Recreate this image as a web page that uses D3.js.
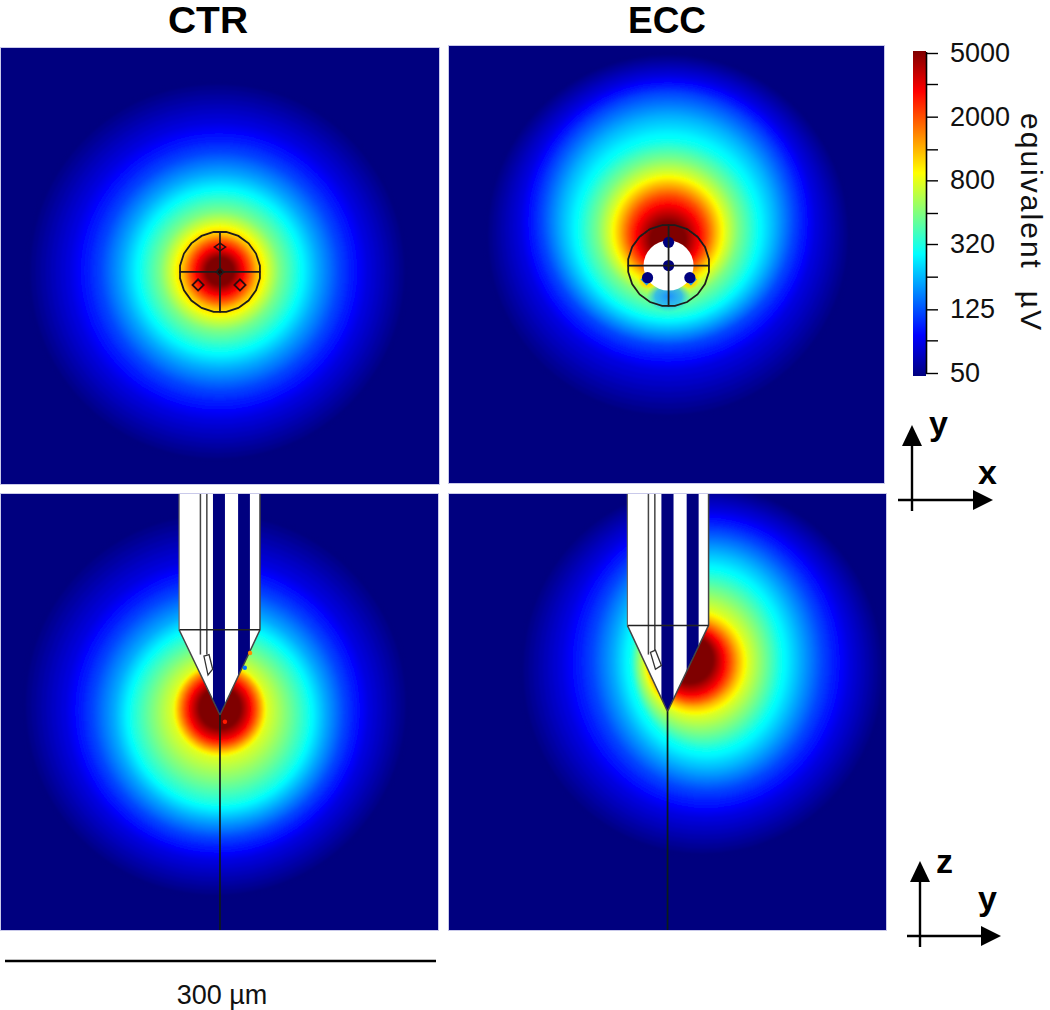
<!DOCTYPE html>
<html><head><meta charset="utf-8">
<script src="https://cdn.jsdelivr.net/npm/d3@7/dist/d3.min.js"></script>
<style>html,body{margin:0;padding:0;background:#fff}svg{display:block;font-family:"Liberation Sans",Arial,sans-serif}</style>
</head><body><svg id="c" width="1050" height="1010"></svg>
<script>
// colour bar
const tickValues = [50, 80, 125, 200, 320, 500, 800, 1250, 2000, 3200, 5000];
const tickLabels = ["50", "125", "320", "800", "2000", "5000"];
const jetValues = [50, 89, 282, 889, 2812, 5000];
const jetColors = ["#00007f", "#0000ff", "#00ffff", "#ffff00", "#ff0000", "#7f0000"];
// iso-contours of each panel, micrometres from the panel's top-left corner
const levels = [50, 80, 125, 200, 320, 500, 800, 1250, 2000, 3200, 5000];
const ctrTopR  = [131, 101.5, 81.5, 66.4, 53.4, 41, 32.2, 25.3, 20.5, 15, 9.6];
const ctrTopCx = [148, 149, 150, 150, 150, 150, 150, 150, 150, 150, 150];
const ctrTopCy = [153, 153, 153, 153, 153, 153, 153, 153, 153, 153, 153];
const eccTopR  = [125.6, 100.7, 86.3, 73.8, 60, 48.3, 39.3, 33, 27, 20, 12.4];
const eccTopCx = [150, 150, 150, 150, 150, 150, 150, 150, 150, 150, 150];
const eccTopCy = [130.4, 121.4, 118.7, 121.4, 125.6, 125.6, 127, 127.6, 129, 131, 132.5];
const ctrSideR  = [133, 103.5, 86, 72, 60.3, 46.6, 32.2, 28.8, 24.7, 20, 14.4];
const ctrSideCx = [147, 148, 149, 150, 150, 150, 150, 150, 150, 150, 150];
const ctrSideCy = [144, 147.5, 149.5, 151.4, 152, 150.7, 148, 147.3, 147.3, 147.3, 146.6];
const eccSideRx = [125.6, 98.2, 78.8, 63.9, 50.7, 43.4, 35.4, 30.8, 26.3, 21.7, 16.4];
const eccSideRy = [127.8, 105, 89, 75.3, 60.5, 49, 36.5, 30.8, 26.3, 21.7, 16.4];
const eccSideCx = [173.5, 175.8, 176.9, 176.9, 175.8, 172.4, 169.2, 167.8, 166.7, 165.5, 164.8];
const eccSideCy = [121, 116.4, 114.2, 114.2, 114.2, 114.8, 115.3, 115.3, 115.3, 114.8, 113.5];
// probe geometry (µm)
const ctrProbe = [[122,0],[177.4,0],[177.4,93],[150,151.4],[122,93]];
const eccProbe = [[122.2,0],[177.8,0],[177.8,90],[149.7,149],[122.2,90]];
const ctrBands = [[145.2,153.4],[162.4,170.5]];
const eccBands = [[145.5,153.8],[162.8,171]];
const wireX = [136.6, 141];
const ctrPad = [[139,111],[142.5,110],[145,120],[141.8,124]];
const eccPad = [[138,108.5],[141.4,107],[145.5,117.4],[141.4,120]];
const ctrSpecks = [[170.6,108.9,1500],[167,119,150],[153.4,156,2500]];
const ctrDiamonds = [[150,136.3],[135,162.3],[163.7,162.3]];
const eccDots = [[150.4,150.4],[150.4,134.5],[136,158.7],[165,158.7]];
const eccGlow = [[136,160],[165,160]];
const panels = [
  {x0:1,  y0:48, w:438, h:436, rx:ctrTopR,  ry:ctrTopR,  cx:ctrTopCx,  cy:ctrTopCy},
  {x0:449,y0:46, w:435, h:437, rx:eccTopR,  ry:eccTopR,  cx:eccTopCx,  cy:eccTopCy},
  {x0:1,  y0:494,w:437, h:436, rx:ctrSideR, ry:ctrSideR, cx:ctrSideCx, cy:ctrSideCy},
  {x0:449,y0:494,w:437, h:436, rx:eccSideRx,ry:eccSideRy,cx:eccSideCx, cy:eccSideCy}
];
const svg = d3.select("#c");
const defs = svg.append("defs");
defs.append("filter").attr("id","soft").attr("x","-5%").attr("y","-5%").attr("width","110%").attr("height","110%")
  .append("feGaussianBlur").attr("stdDeviation",1.1);
defs.append("filter").attr("id","fine").attr("x","-5%").attr("y","-5%").attr("width","110%").attr("height","110%")
  .append("feGaussianBlur").attr("stdDeviation",0.45);
const color = d3.scaleLog().domain(jetValues).range(jetColors).interpolate(d3.interpolateRgb);
panels.forEach((p,i)=>{
  p.x = d3.scaleLinear().domain([0,p.w*0.685]).range([p.x0,p.x0+p.w]);
  p.y = d3.scaleLinear().domain([0,p.h*0.685]).range([p.y0,p.y0+p.h]);
  defs.append("clipPath").attr("id","pc"+i).append("rect")
    .attr("x",p.x0).attr("y",p.y0).attr("width",p.w).attr("height",p.h);
  const g = svg.append("g").attr("clip-path",`url(#pc${i})`);
  g.append("rect").attr("x",p.x0).attr("y",p.y0).attr("width",p.w).attr("height",p.h).attr("fill",jetColors[0]);
  const rings = [];
  levels.slice(0,-1).forEach((lv,j)=>{
    const n = 9;
    d3.range(n).forEach(k=>{
      const t = k/n;
      rings.push({
        v: Math.exp(d3.interpolate(Math.log(lv),Math.log(levels[j+1]))(t)),
        rx: d3.interpolate(p.rx[j],p.rx[j+1])(t),
        ry: d3.interpolate(p.ry[j],p.ry[j+1])(t),
        cx: d3.interpolate(p.cx[j],p.cx[j+1])(t),
        cy: d3.interpolate(p.cy[j],p.cy[j+1])(t)
      });
    });
  });
  const L = levels.length-1;
  rings.push({v:levels[L],rx:p.rx[L],ry:p.ry[L],cx:p.cx[L],cy:p.cy[L]});
  g.append("g").attr("filter","url(#soft)").selectAll("ellipse").data(rings).join("ellipse")
    .attr("cx",d=>p.x(d.cx)).attr("cy",d=>p.y(d.cy))
    .attr("rx",d=>p.x(d.rx)-p.x(0)).attr("ry",d=>p.y(d.ry)-p.y(0)).attr("fill",d=>color(d.v));
  p.g = g;
  svg.append("rect").attr("x",p.x0-0.5).attr("y",p.y0-0.5).attr("width",p.w+1).attr("height",p.h+1)
    .attr("fill","none").attr("stroke","#c9c9ea").attr("stroke-width",1);
});
// top views
function topProbe(p, cx, cy, rad){
  const g = svg.append("g").attr("fill","none").attr("stroke","#1c1c1c").attr("stroke-width",1.8).attr("filter","url(#fine)");
  const pts = d3.range(20).map(k=>{const a=k/20*2*Math.PI+0.157;return [p.x(cx+rad*Math.cos(a)),p.y(cy+rad*Math.sin(a))];});
  g.append("path").attr("d",d3.line().curve(d3.curveLinearClosed)(pts));
  g.append("line").attr("x1",p.x(cx-rad)).attr("x2",p.x(cx+rad)).attr("y1",p.y(cy)).attr("y2",p.y(cy));
  g.append("line").attr("x1",p.x(cx)).attr("x2",p.x(cx)).attr("y1",p.y(cy-rad)).attr("y2",p.y(cy+rad));
  return g;
}
const pa = panels[0], pb = panels[1], pc = panels[2], pd = panels[3];
const ga = topProbe(pa,150,153.4,27.7);
ga.selectAll("path.d").data(ctrDiamonds).join("path").attr("class","d")
  .attr("transform",(d,i)=>`translate(${pa.x(d[0])},${pa.y(d[1])}) scale(1,${i?1:0.7}) rotate(45)`)
  .attr("d",d3.symbol(d3.symbolSquare,62)).attr("stroke","#2a1010");
ga.append("path").attr("transform",`translate(${pa.x(150)},${pa.y(153.4)}) rotate(45)`).attr("d",d3.symbol(d3.symbolSquare,26)).attr("fill","#300");

// ECC top: shadow under the probe, hollow, electrode sites
const shadow = defs.append("radialGradient").attr("id","shadow");
shadow.append("stop").attr("offset","0%").attr("stop-color","#1c90ff").attr("stop-opacity",1);
shadow.append("stop").attr("offset","60%").attr("stop-color","#20b0ff").attr("stop-opacity",.8);
shadow.append("stop").attr("offset","100%").attr("stop-color","#20d0ff").attr("stop-opacity",0);
pb.g.append("ellipse").attr("cx",pb.x(150.4)).attr("cy",pb.y(171.5)).attr("rx",22).attr("ry",16).attr("fill","url(#shadow)");
pb.g.append("g").attr("filter","url(#soft)").selectAll("circle").data(eccGlow).join("circle")
  .attr("cx",d=>pb.x(d[0])).attr("cy",d=>pb.y(d[1])).attr("r",8).attr("fill","#ffd800");
pb.g.append("circle").attr("cx",pb.x(150.4)).attr("cy",pb.y(150.4)).attr("r",25).attr("fill","#fff");
pb.g.selectAll("path.site").data(eccGlow).join("path").attr("class","site")
  .attr("transform",d=>`translate(${pb.x(d[0])+(d[0]<150?-1:1)},${pb.y(d[1])}) rotate(45)`)
  .attr("d",d3.symbol(d3.symbolSquare,70)).attr("fill","#18a0e8");
pb.g.selectAll("circle.dot").data(eccDots).join("circle").attr("class","dot")
  .attr("cx",d=>pb.x(d[0])).attr("cy",d=>pb.y(d[1])).attr("r",5.6).attr("fill","#00007f");
topProbe(pb,150.4,150.4,28);

// side views
function sideProbe(p, poly, bands, pad, id, xTip, yTip){
  const toPx = d=>[p.x(d[0]),p.y(d[1])];
  defs.append("clipPath").attr("id",id).append("path").attr("d",d3.line().curve(d3.curveLinearClosed)(poly.map(toPx)));
  const g = svg.append("g").attr("filter","url(#fine)");
  g.append("path").attr("d",d3.line().curve(d3.curveLinearClosed)(poly.map(toPx))).attr("fill","#fff");
  g.append("g").attr("clip-path",`url(#${id})`).selectAll("rect").data(bands).join("rect")
    .attr("x",d=>p.x(d[0])).attr("width",d=>p.x(d[1])-p.x(d[0]))
    .attr("y",p.y(0)).attr("height",p.y(yTip)-p.y(0)).attr("fill","#00007f");
  g.selectAll("line.w").data(wireX).join("line").attr("class","w")
    .attr("x1",d=>p.x(d)).attr("x2",d=>p.x(d)).attr("y1",p.y(0)).attr("y2",p.y(110))
    .attr("stroke","#444").attr("stroke-width",1.5);
  g.append("path").attr("d",d3.line().curve(d3.curveLinearClosed)(pad.map(toPx)))
    .attr("fill","#fff").attr("stroke","#333").attr("stroke-width",1.3);
  g.append("path").attr("d",d3.line()(poly.slice(1).map(toPx))).attr("fill","none").attr("stroke","#444").attr("stroke-width",1.5);
  g.append("line").attr("x1",p.x(poly[4][0])).attr("x2",p.x(poly[2][0])).attr("y1",p.y(poly[2][1])).attr("y2",p.y(poly[2][1]))
    .attr("stroke","#222").attr("stroke-width",1.5);
  g.append("line").attr("x1",p.x(poly[0][0])).attr("x2",p.x(poly[4][0])).attr("y1",p.y(0)).attr("y2",p.y(poly[4][1]))
    .attr("stroke","#666").attr("stroke-width",1.2);
  g.append("line").attr("x1",p.x(xTip)).attr("x2",p.x(xTip)).attr("y1",p.y(yTip)).attr("y2",p.y(298.6))
    .attr("stroke","#0a1a1a").attr("stroke-width",1.7);
}
sideProbe(pc,ctrProbe,ctrBands,ctrPad,"pa1",150,151.4);
sideProbe(pd,eccProbe,eccBands,eccPad,"pa2",149.7,149);
svg.append("g").selectAll("circle").data(ctrSpecks).join("circle")
  .attr("cx",d=>pc.x(d[0])).attr("cy",d=>pc.y(d[1])).attr("r",2.2).attr("fill",d=>color(d[2]));

// titles
svg.append("text").attr("x",208).attr("y",33).attr("text-anchor","middle").attr("font-weight","bold").attr("font-size",36.5)
  .attr("textLength",80).attr("lengthAdjust","spacingAndGlyphs").text("CTR");
svg.append("text").attr("x",667).attr("y",33).attr("text-anchor","middle").attr("font-weight","bold").attr("font-size",36.5)
  .attr("textLength",78).attr("lengthAdjust","spacingAndGlyphs").text("ECC");

// colour bar
const barY = d3.scaleLog().domain([50,5000]).range([373,53]);
const grad = defs.append("linearGradient").attr("id","bar").attr("x1",0).attr("x2",0).attr("y1",1).attr("y2",0);
d3.range(0,41).forEach(k=>{
  const v = 50*Math.pow(100,k/40);
  grad.append("stop").attr("offset",(k/40*100)+"%").attr("stop-color",color(v));
});
svg.append("rect").attr("x",913).attr("y",51).attr("width",13).attr("height",325).attr("fill","url(#bar)");
const axis = d3.axisRight(barY).tickValues(tickValues).tickSize(12).tickPadding(12)
  .tickFormat(d=>tickLabels.includes(String(d))?String(d):"");
const ax = svg.append("g").attr("transform","translate(926,0)").call(axis);
ax.select(".domain").attr("stroke","#000").attr("stroke-width",1.6).attr("d","M0.5,52V374");
ax.selectAll(".tick line").attr("stroke","#000").attr("stroke-width",1.4);
ax.selectAll(".tick text").attr("font-size",27).attr("font-family","'Liberation Sans',Arial,sans-serif").attr("fill","#111");
svg.append("text").attr("transform","translate(1021,221.5) rotate(90)").attr("text-anchor","middle")
  .attr("font-size",30).attr("fill","#111").attr("xml:space","preserve").attr("textLength",217).text("equivalent  µV");

// direction keys
function key(vx, vy0, vy1, hy, hx0, hx1, a, b){
  const g = svg.append("g");
  g.append("line").attr("x1",vx).attr("x2",vx).attr("y1",vy0+15).attr("y2",vy1).attr("stroke","#000").attr("stroke-width",2.4);
  g.append("line").attr("x1",hx0).attr("x2",hx1-15).attr("y1",hy).attr("y2",hy).attr("stroke","#000").attr("stroke-width",2.4);
  g.append("path").attr("d",d3.line()([[vx,vy0],[vx+10,vy0+21],[vx-10,vy0+21]])+"Z");
  g.append("path").attr("d",d3.line()([[hx1,hy],[hx1-20,hy-10],[hx1-20,hy+10]])+"Z");
  g.selectAll("text").data([a,b]).join("text").attr("x",d=>d.x).attr("y",d=>d.y)
    .attr("font-weight","bold").attr("font-size",34).text(d=>d.t);
}
key(912,425,511,500,898,993,{t:"y",x:929,y:435},{t:"x",x:978,y:484});
key(920,861,947,936,907,1001,{t:"z",x:936,y:873},{t:"y",x:978,y:910});

// scale bar
const scaleBar = d3.scaleLinear().domain([0,300]).range([5,436]);
svg.append("line").attr("x1",scaleBar(0)).attr("x2",scaleBar(300)).attr("y1",961).attr("y2",961).attr("stroke","#000").attr("stroke-width",2.6);
svg.append("text").attr("x",222).attr("y",1004).attr("text-anchor","middle").attr("font-size",27).attr("fill","#111").text("300 µm");
</script></body></html>
